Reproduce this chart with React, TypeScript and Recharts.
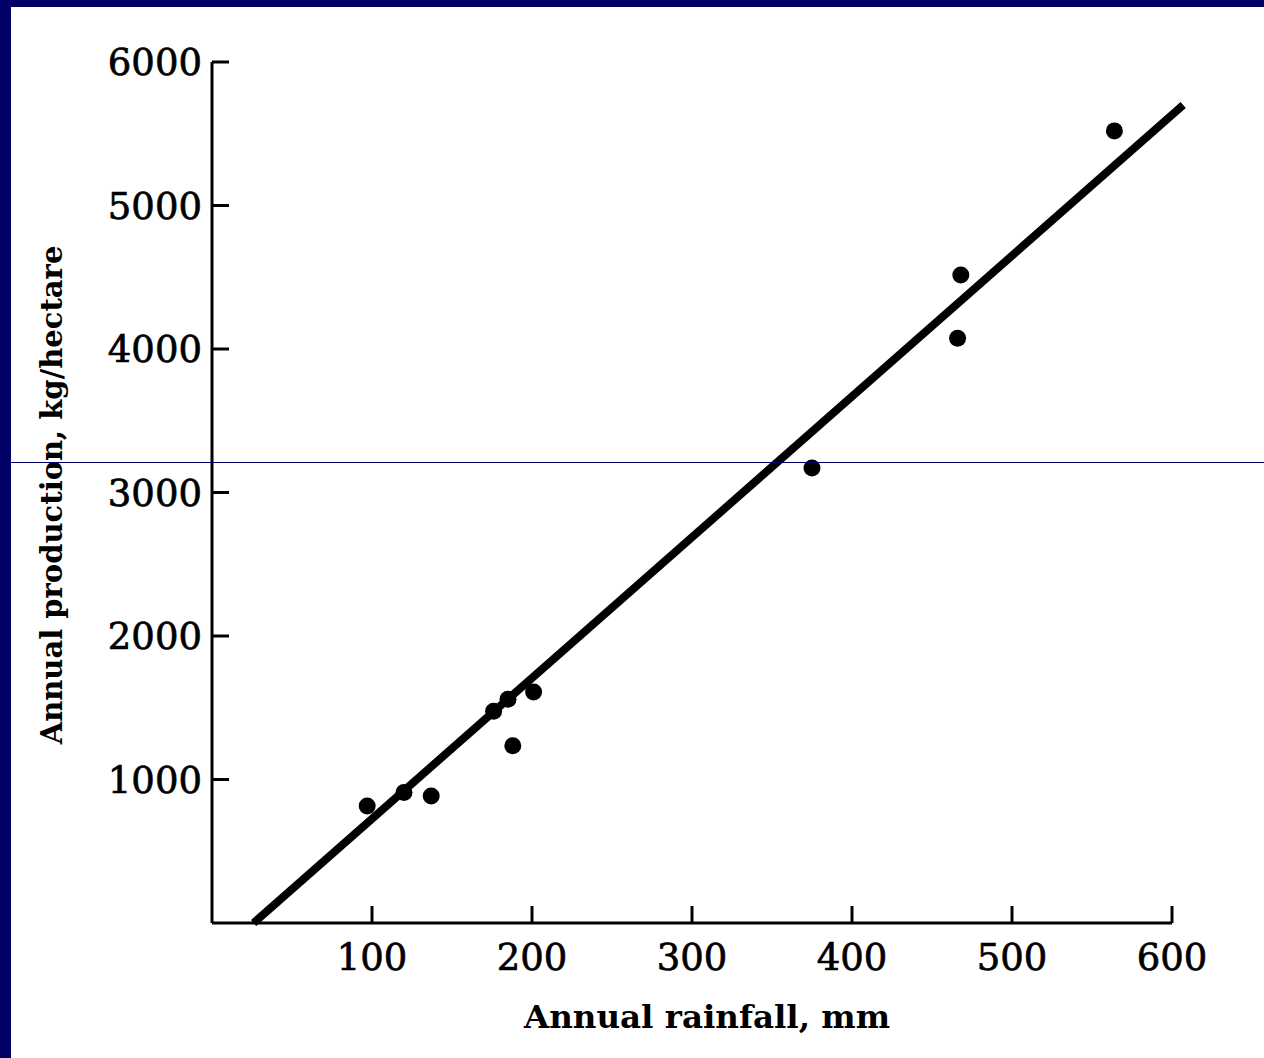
import React from "react";
import {
  ScatterChart,
  Scatter,
  XAxis,
  YAxis,
  ReferenceLine,
  Label,
} from "recharts";

// Observed data points: annual rainfall (mm) vs annual production (kg/hectare)
const rainfall = [97, 120, 137, 176, 185, 201, 188, 375, 468, 466, 564];
const production = [815, 910, 885, 1475, 1560, 1610, 1235, 3170, 4515, 4075, 5520];

// Fitted regression line endpoints
const fitStart = { x: 26, y: 0 };
const fitEnd = { x: 607, y: 5700 };

const xTicks = [100, 200, 300, 400, 500, 600];
const yTicks = [1000, 2000, 3000, 4000, 5000, 6000];

const xLabel = "Annual rainfall, mm";
const yLabel = "Annual production, kg/hectare";

const points = rainfall.map((x, i) => ({ x, y: production[i] }));

const FONT = "'DejaVu Serif', 'Liberation Serif', serif";
const NAVY = "#000066";

const Dot = (props: any) => (
  <circle cx={props.cx} cy={props.cy} r={8.5} fill="#000" />
);

const tickStyle = {
  fill: "#000",
  fontSize: 37,
  fontFamily: FONT,
  stroke: "#000",
  strokeWidth: 0.7,
};

export default function App() {
  return (
    <div style={{ position: "relative", width: 1264, height: 1058, background: "#fff", overflow: "hidden" }}>
      <style>{`body{margin:0;}`}</style>
      <ScatterChart
        width={1264}
        height={1058}
        margin={{ top: 62, right: 92, bottom: 0, left: 0 }}
      >
        <XAxis
          type="number"
          dataKey="x"
          domain={[0, 600]}
          ticks={xTicks}
          height={135}
          axisLine={{ stroke: "#000", strokeWidth: 3 }}
          tickLine={{ stroke: "#000", strokeWidth: 3 }}
          tickSize={-17}
          tickMargin={38}
          tick={tickStyle}
          allowDataOverflow
        >
          <Label
            content={() => (
              <text
                x={707}
                y={1028}
                textAnchor="middle"
                fill="#000"
                fontSize={32.5}
                fontWeight="bold"
                fontFamily={FONT}
              >
                {xLabel}
              </text>
            )}
          />
        </XAxis>
        <YAxis
          type="number"
          dataKey="y"
          domain={[0, 6000]}
          ticks={yTicks}
          width={212}
          axisLine={{ stroke: "#000", strokeWidth: 3 }}
          tickLine={{ stroke: "#000", strokeWidth: 3 }}
          tickSize={-17}
          tickMargin={27}
          tick={tickStyle}
          allowDataOverflow
        >
          <Label
            content={() => (
              <text
                x={0}
                y={0}
                transform="translate(62,495) rotate(-90)"
                textAnchor="middle"
                fill="#000"
                fontSize={29}
                fontWeight="bold"
                fontFamily={FONT}
              >
                {yLabel}
              </text>
            )}
          />
        </YAxis>
        <ReferenceLine
          segment={[fitStart, fitEnd]}
          stroke="#000"
          strokeWidth={8}
          ifOverflow="visible"
        />
        <Scatter
          data={points}
          fill="#000"
          shape={Dot}
          isAnimationActive={false}
        />
      </ScatterChart>
      <div style={{ position: "absolute", left: 0, top: 0, width: 1264, height: 7, background: NAVY }} />
      <div style={{ position: "absolute", left: 0, top: 0, width: 11, height: 1058, background: NAVY }} />
      <div style={{ position: "absolute", left: 0, top: 462, width: 1264, height: 1, background: NAVY }} />
    </div>
  );
}
